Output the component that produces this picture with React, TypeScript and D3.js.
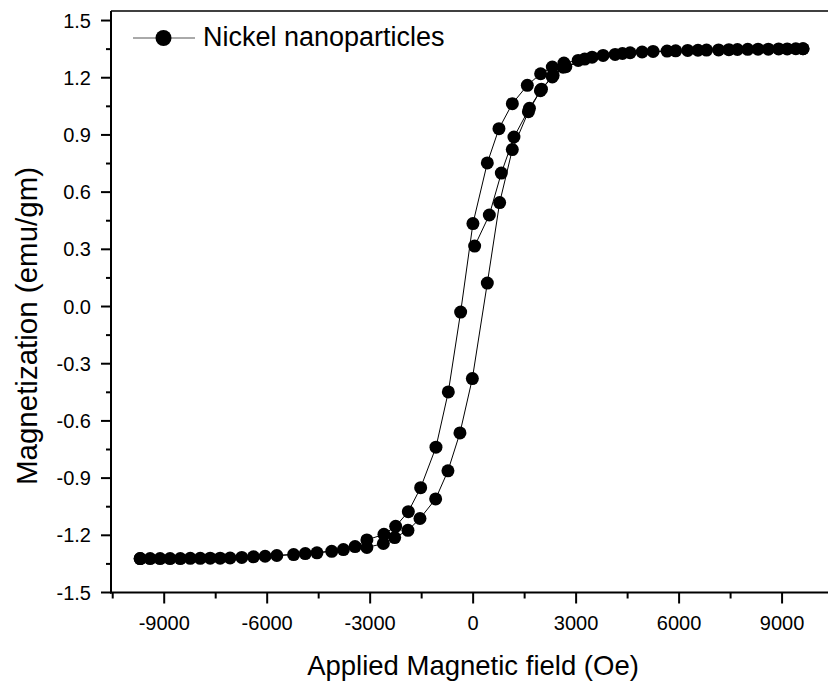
import React, { useEffect, useRef } from 'react';
import * as d3 from 'd3';

// [field (Oe), magnetization (emu/gm)]
const initialBranch: [number, number][] = [
    [44, 0.317], [471, 0.48], [821, 0.7], [1189, 0.889], [1640, 1.04], [1990, 1.14],
    [2330, 1.212], [2700, 1.258], [3250, 1.298], [4350, 1.327], [5900, 1.341],
    [6800, 1.345], [7700, 1.348], [8600, 1.35], [9400, 1.352],
];

const descendingBranch: [number, number][] = [
    [9610, 1.352], [9150, 1.351], [8300, 1.35], [7450, 1.347], [6550, 1.344], [5650, 1.34],
    [5242, 1.338], [4573, 1.331], [4136, 1.322], [3465, 1.308], [3060, 1.291], [2645, 1.277],
    [2306, 1.256], [1966, 1.221], [1578, 1.16], [1142, 1.064], [752, 0.933], [413, 0.753],
    [-6, 0.435], [-364, -0.029], [-723, -0.448], [-1083, -0.738], [-1529, -0.95], [-1888, -1.076],
    [-2257, -1.153], [-2598, -1.195], [-3096, -1.224], [-3440, -1.259], [-4120, -1.284],
    [-4890, -1.296], [-5720, -1.306], [-6400, -1.313], [-7080, -1.319], [-7660, -1.32],
    [-8240, -1.321], [-8830, -1.322], [-9410, -1.322], [-9700, -1.322],
];

const ascendingBranch: [number, number][] = [
    [-9700, -1.322], [-9120, -1.322], [-8530, -1.322], [-7950, -1.321], [-7370, -1.32],
    [-6740, -1.316], [-6060, -1.31], [-5230, -1.301], [-4550, -1.292], [-3780, -1.275],
    [-3096, -1.264], [-2615, -1.243], [-2286, -1.212], [-1899, -1.174], [-1549, -1.112],
    [-1092, -1.009], [-734, -0.862], [-384, -0.663], [-23, -0.378], [413, 0.123], [772, 0.545],
    [1141, 0.823], [1610, 1.022], [1960, 1.132], [2306, 1.204], [2620, 1.255], [3786, 1.317],
    [4922, 1.335], [6250, 1.343], [7150, 1.346], [8000, 1.349], [8900, 1.351], [9610, 1.352],
];

const xTicks = [-9000, -6000, -3000, 0, 3000, 6000, 9000];
const xMinorTicks = [-10500, -7500, -4500, -1500, 1500, 4500, 7500];
const yTicks = [-1.5, -1.2, -0.9, -0.6, -0.3, 0, 0.3, 0.6, 0.9, 1.2, 1.5];
const yMinorTicks = [-1.35, -1.05, -0.75, -0.45, -0.15, 0.15, 0.45, 0.75, 1.05, 1.35];

const legendLabel = 'Nickel nanoparticles';
const xLabel = 'Applied Magnetic field (Oe)';
const yLabel = 'Magnetization (emu/gm)';

const W = 828;
const H = 685;
const FONT = '"Liberation Sans", Arial, sans-serif';

const App = () => {
    const svgRef = useRef<SVGSVGElement>(null);

    useEffect(() => {
        const svg = d3.select(svgRef.current);
        svg.selectAll('*').remove();

        const left = 111, top = 11, bottom = 592.5;

        const x = d3.scaleLinear().domain([-10550, 10600]).range([left, 837]);
        const y = d3.scaleLinear().domain([-1.5, 1.55]).range([bottom, top]);

        const all = [...initialBranch, ...descendingBranch, ...ascendingBranch];

        // line through the whole measurement sequence
        const line = d3.line<[number, number]>()
            .x(d => x(d[0]))
            .y(d => y(d[1]));

        svg.append('path')
            .datum(all)
            .attr('d', line)
            .attr('fill', 'none')
            .attr('stroke', '#000')
            .attr('stroke-width', 1);

        svg.append('g')
            .selectAll('circle')
            .data(all)
            .enter()
            .append('circle')
            .attr('cx', d => x(d[0]))
            .attr('cy', d => y(d[1]))
            .attr('r', 6.5)
            .attr('fill', '#000');

        // frame
        svg.append('line')
            .attr('x1', left).attr('x2', W).attr('y1', top).attr('y2', top)
            .attr('stroke', '#000').attr('stroke-width', 1.5);
        svg.append('line')
            .attr('x1', left).attr('x2', left).attr('y1', top).attr('y2', bottom + 1)
            .attr('stroke', '#000').attr('stroke-width', 2);
        svg.append('line')
            .attr('x1', left - 1).attr('x2', W).attr('y1', bottom).attr('y2', bottom)
            .attr('stroke', '#000').attr('stroke-width', 2);

        // x ticks
        const gx = svg.append('g');
        gx.selectAll('.major')
            .data(xTicks)
            .enter()
            .append('line')
            .attr('x1', d => x(d)).attr('x2', d => x(d))
            .attr('y1', bottom).attr('y2', bottom + 11)
            .attr('stroke', '#000').attr('stroke-width', 2);
        gx.selectAll('.minor')
            .data(xMinorTicks)
            .enter()
            .append('line')
            .attr('x1', d => x(d)).attr('x2', d => x(d))
            .attr('y1', bottom).attr('y2', bottom + 6)
            .attr('stroke', '#000').attr('stroke-width', 2);
        gx.selectAll('text')
            .data(xTicks)
            .enter()
            .append('text')
            .attr('x', d => x(d))
            .attr('y', 630)
            .attr('text-anchor', 'middle')
            .attr('font-family', FONT)
            .attr('font-size', 20)
            .text(d => String(d));

        // y ticks
        const gy = svg.append('g');
        gy.selectAll('.major')
            .data(yTicks)
            .enter()
            .append('line')
            .attr('x1', left - 10).attr('x2', left)
            .attr('y1', d => y(d)).attr('y2', d => y(d))
            .attr('stroke', '#000').attr('stroke-width', 2);
        gy.selectAll('.minor')
            .data(yMinorTicks)
            .enter()
            .append('line')
            .attr('x1', left - 5).attr('x2', left)
            .attr('y1', d => y(d)).attr('y2', d => y(d))
            .attr('stroke', '#000').attr('stroke-width', 2);
        gy.selectAll('text')
            .data(yTicks)
            .enter()
            .append('text')
            .attr('x', 91)
            .attr('y', d => y(d) + 7)
            .attr('text-anchor', 'end')
            .attr('font-family', FONT)
            .attr('font-size', 20)
            .text(d => d.toFixed(1));

        // axis titles
        svg.append('text')
            .attr('x', 473)
            .attr('y', 675)
            .attr('text-anchor', 'middle')
            .attr('font-family', FONT)
            .attr('font-size', 27.5)
            .text(xLabel);
        svg.append('text')
            .attr('transform', 'translate(37,326) rotate(-90)')
            .attr('text-anchor', 'middle')
            .attr('font-family', FONT)
            .attr('font-size', 29.5)
            .text(yLabel);

        // legend
        const lg = svg.append('g');
        lg.append('line')
            .attr('x1', 133).attr('x2', 195).attr('y1', 38).attr('y2', 38)
            .attr('stroke', '#555').attr('stroke-width', 1);
        lg.append('circle')
            .attr('cx', 163.5).attr('cy', 38).attr('r', 8)
            .attr('fill', '#000');
        lg.append('text')
            .attr('x', 203)
            .attr('y', 46)
            .attr('font-family', FONT)
            .attr('font-size', 27)
            .text(legendLabel);
    }, []);

    return (
        <svg
            ref={svgRef}
            width={W}
            height={H}
            style={{ position: 'absolute', left: 0, top: 0, background: '#fff' }}
        />
    );
};

export default App;
